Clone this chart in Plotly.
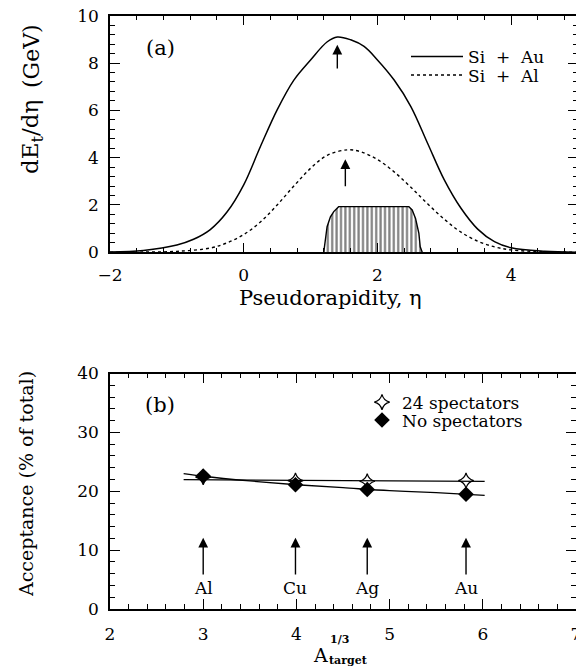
import plotly.graph_objects as go

# ---------------- data (top panel) ----------------
eta = [-2.0, -1.5, -1.0, -0.75, -0.5, -0.25, 0.0, 0.25, 0.5, 0.75, 1.0, 1.25, 1.4, 1.6, 1.8,
       2.0, 2.25, 2.5, 2.75, 3.0, 3.25, 3.5, 3.75, 4.0, 4.5, 5.0]
si_au = [0.01, 0.08, 0.31, 0.55, 0.96, 1.7, 2.85, 4.47, 6.02, 7.28, 8.13, 8.9, 9.1, 8.98, 8.7,
         8.13, 7.28, 6.16, 4.61, 3.06, 1.86, 0.98, 0.45, 0.19, 0.04, 0.0]
eta_al = [-2.0, -1.5, -1.0, -0.5, -0.25, 0.0, 0.25, 0.5, 0.75, 1.0, 1.25, 1.55, 1.75, 2.0,
          2.25, 2.5, 2.75, 3.0, 3.25, 3.5, 3.75, 4.0, 4.5, 5.0]
si_al = [0.0, 0.01, 0.04, 0.18, 0.4, 0.75, 1.28, 2.0, 2.8, 3.55, 4.1, 4.33, 4.25, 3.92,
         3.4, 2.75, 2.05, 1.4, 0.85, 0.47, 0.23, 0.1, 0.02, 0.0]
accept_eta = [1.197, 1.247, 1.297, 1.347, 1.42, 2.47, 2.52, 2.57, 2.62, 2.64, 2.67]
accept_val = [0.0, 1.08, 1.5, 1.72, 1.93, 1.93, 1.79, 1.43, 0.8, 0.23, 0.0]
arrow_eta = [1.4, 1.52]
arrow_tip = [8.77, 3.93]
arrow_tail = [7.7, 2.73]

# ---------------- data (bottom panel) ----------------
targets = ["Al", "Cu", "Ag", "Au"]
a_third = [3.0, 3.99, 4.76, 5.82]
spect24 = [22.4, 21.8, 21.7, 21.8]
nospect = [22.6, 21.1, 20.3, 19.5]
fit24_x = [2.79, 6.02]
fit24_y = [21.96, 21.67]
fitno_x = [2.79, 3.0, 3.5, 4.0, 4.5, 5.0, 5.5, 6.02]
fitno_y = [23.0, 22.55, 21.75, 21.1, 20.6, 20.1, 19.75, 19.3]
b_arrow_tip = 12.1
b_arrow_tail = 5.6
b_label_y = 3.6

W, H = 584, 669
OFF = 8  # page body margin offset
ML, MR, MT, MB = 102, 14, 7, 68
PW, PH = W - ML - MR, H - MT - MB
FONT = "DejaVu Serif"


def px(x):
    """screen pixel x -> paper fraction"""
    return (x - OFF - ML) / PW


def py(y):
    """screen pixel y -> paper fraction"""
    return (H - MB - (y - OFF)) / PH


def f(size):
    return dict(family=FONT, size=size, color="black")


fig = go.Figure()

# top panel
fig.add_trace(go.Scatter(x=accept_eta, y=accept_val, mode="lines", fill="toself",
                         fillcolor="white",
                         fillpattern=dict(shape="|", fgcolor="black", bgcolor="white",
                                          size=4.4, solidity=0.5),
                         line=dict(color="black", width=1.4), showlegend=False,
                         xaxis="x", yaxis="y"))
fig.add_trace(go.Scatter(x=eta, y=si_au, mode="lines", name="Si  +  Au",
                         line=dict(color="black", width=1.5, shape="spline", smoothing=1.0),
                         xaxis="x", yaxis="y", legend="legend"))
fig.add_trace(go.Scatter(x=eta_al, y=si_al, mode="lines", name="Si  +  Al",
                         line=dict(color="black", width=1.4, dash="dot", shape="spline",
                                   smoothing=1.0),
                         xaxis="x", yaxis="y", legend="legend2"))

# bottom panel
fig.add_trace(go.Scatter(x=fit24_x, y=fit24_y, mode="lines",
                         line=dict(color="black", width=1.3), showlegend=False,
                         xaxis="x2", yaxis="y2"))
fig.add_trace(go.Scatter(x=fitno_x, y=fitno_y, mode="lines",
                         line=dict(color="black", width=1.3, shape="spline"),
                         showlegend=False, xaxis="x2", yaxis="y2"))
fig.add_trace(go.Scatter(x=a_third, y=spect24, mode="markers", name="24 spectators",
                         marker=dict(symbol="star-diamond-open", size=11, color="black",
                                     line=dict(width=1.2, color="black")),
                         xaxis="x2", yaxis="y2", legend="legend3"))
fig.add_trace(go.Scatter(x=a_third, y=nospect, mode="markers", name="No spectators",
                         marker=dict(symbol="diamond", size=12, color="black"),
                         xaxis="x2", yaxis="y2", legend="legend4"))

axis_common = dict(showline=True, linecolor="black", linewidth=1.5, mirror="allticks",
                   ticks="inside", ticklen=10, tickwidth=1.3, tickcolor="black",
                   showgrid=False, zeroline=False, automargin=False,
                   ticklabeloverflow="allow", tickfont=f(17))

annotations = []
for e, tip, tail in zip(arrow_eta, arrow_tip, arrow_tail):
    annotations.append(dict(x=e, y=tip, ax=e, ay=tail, xref="x", yref="y", axref="x",
                            ayref="y", text="", showarrow=True, arrowhead=2,
                            arrowsize=1.4, arrowwidth=1.4, arrowcolor="black", standoff=0))
for t, a in zip(targets, a_third):
    annotations.append(dict(x=a, y=b_arrow_tip, ax=a, ay=b_arrow_tail, xref="x2", yref="y2",
                            axref="x2", ayref="y2", text="", showarrow=True, arrowhead=2,
                            arrowsize=1.4, arrowwidth=1.4, arrowcolor="black", standoff=0))
    annotations.append(dict(x=a, y=b_label_y, xref="x2", yref="y2", text=t, showarrow=False,
                            xanchor="center", yanchor="middle", font=f(17)))

txt = dict(showarrow=False, xref="paper", yref="paper", xanchor="center", yanchor="middle")
annotations += [
    dict(txt, x=px(160), y=py(48), text="(a)", font=f(21)),
    dict(txt, x=px(160), y=py(405), text="(b)", font=f(21)),
    dict(txt, x=px(330), y=py(298), text="Pseudorapidity, η", font=f(21)),
    dict(txt, x=px(32), y=py(137), text="dE<sub>t</sub>/dη", textangle=-90, font=f(23)),
    dict(txt, x=px(32), y=py(56), text="(GeV)", textangle=-90, font=f(22)),
    dict(txt, x=px(26), y=py(484), text="Acceptance (% of total)", textangle=-90, font=f(19)),
    dict(txt, x=px(320), y=py(655), text="A", font=f(19)),
    dict(txt, x=px(328), y=py(639), xanchor="left", text="<b>1/3</b>", font=f(11)),
    dict(txt, x=px(327), y=py(660), xanchor="left", text="<b>target</b>", font=f(11)),
]

leg = dict(bgcolor="rgba(0,0,0,0)", borderwidth=0, xanchor="left", yanchor="middle",
           font=f(17))
leg_b = dict(leg, itemwidth=30, font=f(17))

fig.update_layout(
    width=W, height=H,
    margin=dict(l=ML, r=MR, t=MT, b=MB, pad=0, autoexpand=False),
    paper_bgcolor="white", plot_bgcolor="white",
    xaxis=dict(axis_common, domain=[px(110), px(578)], range=[-2, 5], dtick=2, tick0=-2,
               anchor="y", ticklabelstandoff=7,
               minor=dict(dtick=0.4, tick0=-2, ticks="inside", ticklen=5, tickcolor="black",
                          tickwidth=1.1)),
    yaxis=dict(axis_common, domain=[py(252.3), py(15.7)], range=[0, 10], dtick=2, anchor="x",
               ticklabelstandoff=6,
               minor=dict(dtick=0.4, tick0=0, ticks="inside", ticklen=5, tickcolor="black",
                          tickwidth=1.1)),
    xaxis2=dict(axis_common, domain=[px(110), px(576)], range=[2, 7], dtick=1, anchor="y2",
                ticklabelstandoff=9,
                minor=dict(dtick=0.2, tick0=2, ticks="inside", ticklen=5, tickcolor="black",
                           tickwidth=1.1)),
    yaxis2=dict(axis_common, domain=[py(609), py(373.5)], range=[0, 40], dtick=10,
                anchor="x2", ticklabelstandoff=6,
                minor=dict(dtick=2, tick0=0, ticks="inside", ticklen=5, tickcolor="black",
                           tickwidth=1.1)),
    legend=dict(leg, x=px(406), y=py(57), itemwidth=52),
    legend2=dict(leg, x=px(406), y=py(75.5), itemwidth=52),
    legend3=dict(leg_b, x=px(362), y=py(402.5)),
    legend4=dict(leg_b, x=px(362), y=py(420.5)),
    annotations=annotations,
)

fig.write_html("out.html", config={"displayModeBar": False})
